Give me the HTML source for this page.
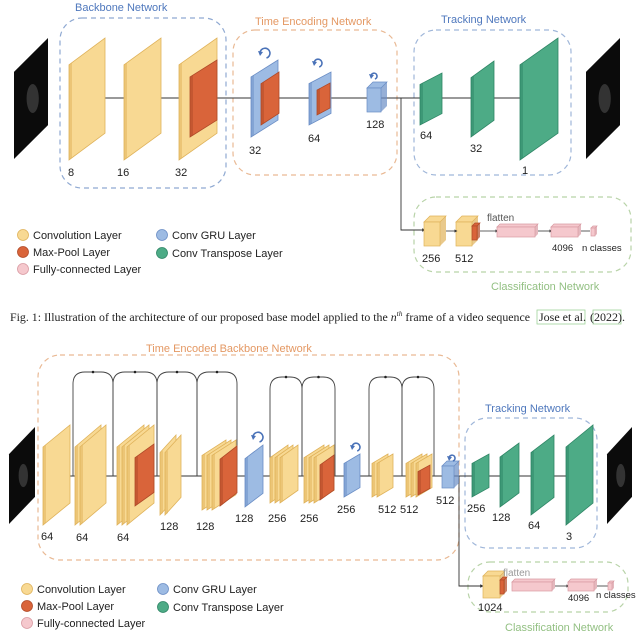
<!DOCTYPE html>
<html><head><meta charset="utf-8"><style>
html,body{margin:0;padding:0;background:#fff}
svg{display:block}
text{font-family:"Liberation Sans",sans-serif}
.serif{font-family:"Liberation Serif",serif}
</style></head><body>
<svg id="fig" width="640" height="636" viewBox="0 0 640 636" xmlns="http://www.w3.org/2000/svg">
<defs>
<marker id="ar" viewBox="0 0 6 6" refX="3" refY="3" markerWidth="4" markerHeight="4" orient="auto"><path d="M0,0L6,3L0,6z" fill="#333"/></marker>
</defs>
<g id="top"></g>
<g id="bot"></g>
<text class="serif" x="10" y="321" font-size="12" fill="#222" textLength="520" lengthAdjust="spacingAndGlyphs">Fig. 1: Illustration of the architecture of our proposed base model applied to the <tspan font-style="italic">n</tspan><tspan font-size="7.5" dy="-5" font-style="italic">th</tspan><tspan dy="5"> frame of a video sequence</tspan></text>
<rect x="537" y="310" width="48" height="14" fill="none" stroke="#9fd39a" stroke-width="0.8"/>
<text class="serif" x="539" y="321" font-size="12" fill="#222">Jose et al.</text>
<rect x="593" y="310" width="28" height="14" fill="none" stroke="#9fd39a" stroke-width="0.8"/>
<text class="serif" x="590" y="321" font-size="12" fill="#222">(2022).</text>
</svg>
<script>
const NS='http://www.w3.org/2000/svg';
const C={conv:['#f8d993','#dfb25a'],pool:['#d9643a','#b04a28'],gru:['#9dbbe3','#6a8dc5'],tr:['#4dab86','#2e8565'],fc:['#f5c8cd','#d99aa2'],img:['#0a0a0a','#000']};
function el(p,t,a,txt){const e=document.createElementNS(NS,t);for(const k in a)e.setAttribute(k,a[k]);if(txt!==undefined)e.textContent=txt;p.appendChild(e);return e;}
function slab(g,x,w,yT,yB,kind,name){
  const s=(yB-yT)*0.22;const c=C[kind];
  const p=el(g,'polygon',{points:`${x},${yT+s} ${x+w},${yT} ${x+w},${yB-s} ${x},${yB}`,fill:c[0],stroke:c[1],'stroke-width':0.8});
  
  
  el(g,'polygon',{points:`${x},${yT+s} ${x+3},${yT+s-2} ${x+3},${yB-2} ${x},${yB}`,fill:c[1],opacity:0.5});
}
function box(g,x,y,w,h,col,name){const r=el(g,'rect',{x,y,width:w,height:h,rx:22,fill:'none',stroke:col,'stroke-width':1.2,'stroke-dasharray':'5,4'});}
function label(g,x,y,t,name,size,col){const e=el(g,'text',{x,y,'font-size':size||11,fill:col||'#222'},t);return e;}
function rot(g,x,y,r){el(g,'path',{d:`M${x-r},${y} A${r},${r} 0 1 1 ${x+r*0.3},${y+r}`,fill:'none',stroke:'#4a72b8','stroke-width':1.6});el(g,'path',{d:`M${x-r-2},${y-2} L${x-r},${y+3} L${x-r+3},${y-1}z`,fill:'#4a72b8'});}
function cube(g,x,y,w,h,d,kind,name){const c=C[kind];
  el(g,'polygon',{points:`${x},${y} ${x+d},${y-d} ${x+w+d},${y-d} ${x+w},${y}`,fill:c[0],stroke:c[1],'stroke-width':0.7});
  el(g,'polygon',{points:`${x+w},${y} ${x+w+d},${y-d} ${x+w+d},${y+h-d} ${x+w},${y+h}`,fill:c[1],opacity:0.7});
  const f=el(g,'rect',{x,y,width:w,height:h,fill:c[0],stroke:c[1],'stroke-width':0.7});}
function img(g,x,w,yT,yB,name){const s=(yB-yT)*0.28;const p=el(g,'polygon',{points:`${x},${yT+s} ${x+w},${yT} ${x+w},${yB-s} ${x},${yB}`,fill:'#0b0b0b'});
  el(g,'ellipse',{cx:x+w*0.55,cy:(yT+yB)/2,rx:w*0.18,ry:(yB-yT)*0.12,fill:'#444',opacity:0.7});}
function legend(g,y0,x1,x2,dy){
  const items=[[x1,y0,'conv','Convolution Layer'],[x1,y0+dy,'pool','Max-Pool Layer'],[x1,y0+2*dy,'fc','Fully-connected Layer'],[x2,y0,'gru','Conv GRU Layer'],[x2,y0+dy+1,'tr','Conv Transpose Layer']];
  items.forEach(it=>{const c=el(g,'circle',{cx:it[0],cy:it[1],r:5.5,fill:C[it[2]][0],stroke:C[it[2]][1],'stroke-width':0.8});
    
    
    label(g,it[0]+10,it[1]+4,it[3],'legend-entry',11);});
}
// ---------------- TOP ----------------
const T=document.getElementById('top');
box(T,60,18,166,170,'#8fa9d2','backbone-box');
box(T,233,30,164,145,'#e9b994','time-encoding-box');
box(T,414,30,157,145,'#9fb6d9','tracking-box');
box(T,414,197,217,75,'#b8d3a8','classification-box');
label(T,75,11,'Backbone Network','backbone-title',11,'#4f78bd');
label(T,255,25,'Time Encoding Network','time-encoding-title',11,'#e49863');
label(T,441,23,'Tracking Network','tracking-title',11,'#4f78bd');
label(T,491,290,'Classification Network','classification-title',11,'#93c083');
img(T,14,34,38,159,'input-frame');
img(T,586,34,38,159,'output-frame');
el(T,'line',{x1:86,y1:98,x2:400,y2:98,stroke:'#333','stroke-width':0.9});
el(T,'line',{x1:400,y1:98,x2:541,y2:98,stroke:'#333','stroke-width':0.9});
el(T,'polyline',{points:'401,98 401,230 424,230',fill:'none',stroke:'#333','stroke-width':0.9,'marker-end':'url(#ar)'});
const topLayers=[[69,36,38,160,'conv','8'],[124,37,38,160,'conv','16'],[179,38,38,160,'conv','32']];
topLayers.forEach((l,i)=>{slab(T,l[0],l[1],l[2],l[3],l[4],'conv-layer');});
slab(T,190,27,60,137,'pool','maxpool-layer');
[[68,'8'],[117,'16'],[175,'32']].forEach(a=>label(T,a[0],176,a[1],'channel-label',11));
slab(T,251,27,60,137,'gru','gru-layer');slab(T,261,18,72,125,'pool','gru-pool');
slab(T,309,22,72,125,'gru','gru-layer');slab(T,317,13,83,115,'pool','gru-pool');
cube(T,367,88,14,24,6,'gru','gru-cube');
rot(T,265,53,5);rot(T,318,63,4);rot(T,374,76,3);
label(T,249,154,'32','channel-label');label(T,308,142,'64','channel-label');label(T,366,128,'128','channel-label');
slab(T,420,22,73,125,'tr','transpose-layer');
slab(T,471,23,61,137,'tr','transpose-layer');
slab(T,520,38,38,160,'tr','transpose-layer');
label(T,420,139,'64','channel-label');label(T,470,152,'32','channel-label');label(T,522,174,'1','channel-label');
cube(T,424,222,16,24,6,'conv','class-conv');
cube(T,456,222,16,24,6,'conv','class-conv');
cube(T,472,226,5,14,3,'pool','class-pool');
el(T,'line',{x1:446,y1:231,x2:456,y2:231,stroke:'#333','stroke-width':0.8,'marker-end':'url(#ar)'});
el(T,'line',{x1:480,y1:231,x2:497,y2:231,stroke:'#333','stroke-width':0.8,'marker-end':'url(#ar)'});
cube(T,497,227,38,10,3,'fc','fc-layer');
el(T,'line',{x1:538,y1:231,x2:551,y2:231,stroke:'#333','stroke-width':0.8,'marker-end':'url(#ar)'});
cube(T,551,227,27,10,3,'fc','fc-layer');
el(T,'line',{x1:581,y1:231,x2:590,y2:231,stroke:'#333','stroke-width':0.8});
cube(T,591,228,4,8,2,'fc','fc-output');
label(T,487,221,'flatten','flatten-label',10,'#555');
label(T,422,262,'256','channel-label');label(T,455,262,'512','channel-label');
label(T,552,251,'4096','channel-label',9.5);label(T,582,251,'n classes','channel-label',9.5);
legend(T,235,23,162,17);
// ---------------- BOTTOM ----------------
const B=document.getElementById('bot');
box(B,38,355,421,205,'#e9b994','backbone-box');
box(B,465,418,132,130,'#9fb6d9','tracking-box');
box(B,468,562,160,50,'#b8d3a8','classification-box');
label(B,146,352,'Time Encoded Backbone Network','backbone-title',11,'#e49863');
label(B,485,412,'Tracking Network','tracking-title',11,'#4f78bd');
label(B,505,631,'Classification Network','classification-title',11,'#93c083');
img(B,9,26,427,524,'input-frame');
img(B,607,25,427,524,'output-frame');
el(B,'line',{x1:50,y1:476,x2:585,y2:476,stroke:'#333','stroke-width':0.9});
el(B,'polyline',{points:'459,476 459,586 482,586',fill:'none',stroke:'#333','stroke-width':0.9,'marker-end':'url(#ar)'});
const arcsX=[[73,113],[113,157],[157,197],[197,237],[270,302],[302,335],[369,402],[402,434]];
const arcsTop=[372,372,372,372,377,377,377,377];
arcsX.forEach((a,i)=>{const t=arcsTop[i];const p=el(B,'path',{d:`M${a[0]},476 L${a[0]},${t+12} Q${a[0]},${t} ${a[0]+12},${t} L${a[1]-12},${t} Q${a[1]},${t} ${a[1]},${t+12} L${a[1]},476`,fill:'none',stroke:'#444','stroke-width':0.9});
  
  
  el(B,'circle',{cx:(a[0]+a[1])/2,cy:t,r:1.3,fill:'#222'});});
const botLayers=[[43,27,425,525,'conv',1],[75,26,425,525,'conv',2],[117,27,425,525,'conv',3],[160,16,435,515,'conv',2],[202,24,440,510,'conv',3],[245,18,445,507,'gru',1],[270,18,445,503,'conv',3],[304,20,445,503,'conv',3],[344,16,454,497,'gru',1],[372,16,454,497,'conv',2],[406,16,454,497,'conv',3],[472,17,454,497,'tr',1],[500,19,443,507,'tr',1],[531,23,435,515,'tr',1],[566,27,425,525,'tr',1]];
botLayers.forEach(l=>{for(let k=0;k<l[5];k++){slab(B,l[0]+k*5,l[1],l[2],l[3],l[4],l[4]==='gru'?'gru-layer':(l[4]==='tr'?'transpose-layer':'conv-layer'));}});
const pools=[[135,19,444,506],[220,17,446,506],[320,14,455,500],[418,12,465,495]];
pools.forEach(p=>slab(B,p[0],p[1],p[2],p[3],'pool','maxpool-layer'));
cube(B,442,466,12,22,5,'gru','gru-cube');
rot(B,258,437,5);rot(B,356,447,4);rot(B,452,458,3);
const botLabels=[[41,540,'64'],[76,541,'64'],[117,541,'64'],[160,530,'128'],[196,530,'128'],[235,522,'128'],[268,522,'256'],[300,522,'256'],[337,513,'256'],[378,513,'512'],[400,513,'512'],[436,504,'512'],[467,512,'256'],[492,521,'128'],[528,529,'64'],[566,540,'3']];
botLabels.forEach(b=>label(B,b[0],b[1],b[2],'channel-label'));
cube(B,483,576,17,22,5,'conv','class-conv');
cube(B,500,580,4,14,3,'pool','class-pool');
cube(B,512,582,40,9,3,'fc','fc-layer');
el(B,'line',{x1:555,y1:586,x2:568,y2:586,stroke:'#333','stroke-width':0.8,'marker-end':'url(#ar)'});
cube(B,568,582,26,9,3,'fc','fc-layer');
el(B,'line',{x1:597,y1:586,x2:608,y2:586,stroke:'#333','stroke-width':0.8});
cube(B,608,583,4,7,2,'fc','fc-output');
label(B,503,576,'flatten','flatten-label',10,'#999');
label(B,478,611,'1024','channel-label');label(B,568,601,'4096','channel-label',9.5);label(B,596,598,'n classes','channel-label',9.5);
legend(B,589,27,163,17);
</script>
</body></html>
